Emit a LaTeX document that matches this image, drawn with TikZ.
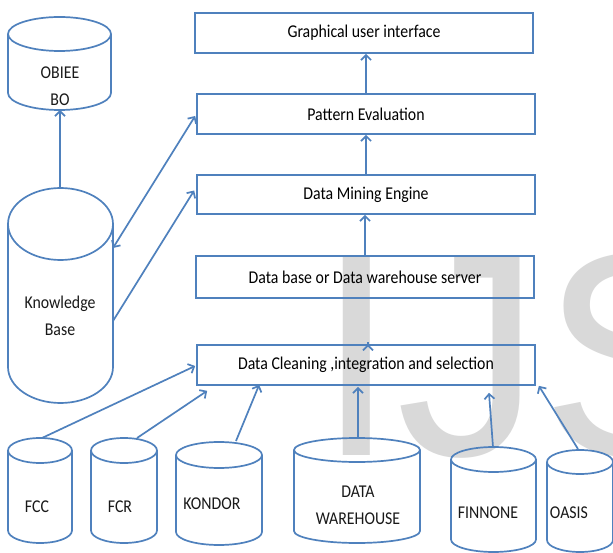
\documentclass[tikz,border=0pt]{standalone}
\usepackage{fontspec}
\setmainfont{Carlito}[FakeStretch=0.88]
\newfontfamily\wmfont{Liberation Sans}
\usetikzlibrary{arrows.meta,calc}
\definecolor{lineblue}{HTML}{4F81BD}
\definecolor{wmgray}{HTML}{D9D9D9}
\newcommand\dbcyl[5]{% cx, rx, ytop, ybot, ry
  \draw[cyl] (#1,#3+#5) ellipse [x radius=#2pt, y radius=#5pt];
  \draw[cyl] (#1-#2,#3+#5) -- (#1-#2,#4-#5)
     arc[start angle=180,end angle=360,x radius=#2pt,y radius=#5pt] -- (#1+#2,#3+#5);
}
\begin{document}
\begin{tikzpicture}[x=1pt,y=-1pt,
  cyl/.style={draw=lineblue,line width=1.7pt},
  stage/.style={draw=lineblue,line width=1.7pt,rectangle,minimum width=338pt,minimum height=40pt,inner sep=0pt,font=\fontsize{18}{20}\selectfont},
  lbl/.style={align=center,inner sep=0pt,text=black!90,font=\fontsize{18}{27}\selectfont},
  conn/.style={draw=lineblue,line width=1.7pt,-{Straight Barb[length=5pt,width=10pt,line width=1.7pt]}},
  dconn/.style={draw=lineblue,line width=1.7pt,{Straight Barb[length=5pt,width=10pt,line width=1.7pt]}-{Straight Barb[length=5pt,width=10pt,line width=1.7pt]}}]
\useasboundingbox (0,0) rectangle (613,553);
\clip (0,0) rectangle (613,553);
\fill[white] (0,0) rectangle (613,553);
% watermark
\node[anchor=base west,inner sep=0pt,text=wmgray,font=\wmfont\fontsize{290}{290}\selectfont] (wm) at (316,455) {IJS};
% stage boxes
\node[stage] (gui) at (364,33) {Graphical user interface};
\node[stage] (pat) at (366,114) {Pattern Evaluation};
\node[stage,minimum height=39pt] (dme) at (366,194.5) {Data Mining Engine};
\node[stage,minimum height=42pt] (dbs) at (365,277) {Data base or Data warehouse server};
\node[stage] (clean) at (366,365) {Data Cleaning ,integration and selection};
% cylinders
\dbcyl{59.5}{51.5}{17}{110}{17}
\node[lbl] (obiee) at (60,86) {OBIEE\\BO};
\coordinate (obiee-bot) at (60,110);
\dbcyl{60.5}{52.5}{188}{403}{36}
\node[lbl] (kb) at (60,316) {Knowledge\\Base};
\coordinate (kb-top) at (60,188);
\coordinate (kb-r1) at (113,248);
\coordinate (kb-r2) at (113,321);
\dbcyl{40}{32}{438}{543}{12.5}
\node[lbl] (fcc) at (37,507) {FCC};
\coordinate (fcc-top) at (42,438);
\dbcyl{124}{33}{438}{543}{12.5}
\node[lbl] (fcr) at (120,507) {FCR};
\coordinate (fcr-top) at (137,438);
\dbcyl{219}{43}{442}{545}{13}
\node[lbl] (kondor) at (212,504) {KONDOR};
\coordinate (kondor-top) at (236,441);
\dbcyl{357}{63}{438}{543}{12}
\node[lbl] (dw) at (358,505) {DATA\\WAREHOUSE};
\coordinate (dw-top) at (358,438);
\dbcyl{493.5}{42.5}{447}{552}{12.5}
\node[lbl] (finnone) at (488,513) {FINNONE};
\coordinate (finnone-top) at (493,447);
\dbcyl{580}{33}{450}{552}{12}
\node[lbl] (oasis) at (569,513) {OASIS};
\coordinate (oasis-top) at (578,449);
% connectors between stages
\draw[conn] (pat.north) -- (pat.north |- gui.south);
\draw[conn] (dme.north) -- (dme.north |- pat.south);
\draw[conn] (dbs.north) -- (dbs.north |- dme.south);
\draw[conn] ($(clean.north)+(2,0)$) -- ($(clean.north)+(2,0)$ |- dbs.south);
% knowledge base connectors
\draw[conn] (kb-top) -- (obiee-bot);
\draw[dconn] (kb-r1) -- ($(pat.west)+(-1,2)$);
\draw[conn] (kb-r2) -- ($(dme.west)+(-2,-4)$);
% sources to data cleaning
\draw[conn] (fcc-top) -- ($(clean.west)+(-1,1)$);
\draw[conn] (fcr-top) -- ($(clean.south west)+(11,5)$);
\draw[conn] (kondor-top) -- ($(clean.south west)+(63,-1)$);
\draw[conn] (dw-top) -- ($(clean.south)+(-8,1)$);
\draw[conn] (finnone-top) -- ($(clean.south)+(123,7)$);
\draw[conn] (oasis-top) -- ($(clean.south east)+(3,0)$);
\end{tikzpicture}
\end{document}
